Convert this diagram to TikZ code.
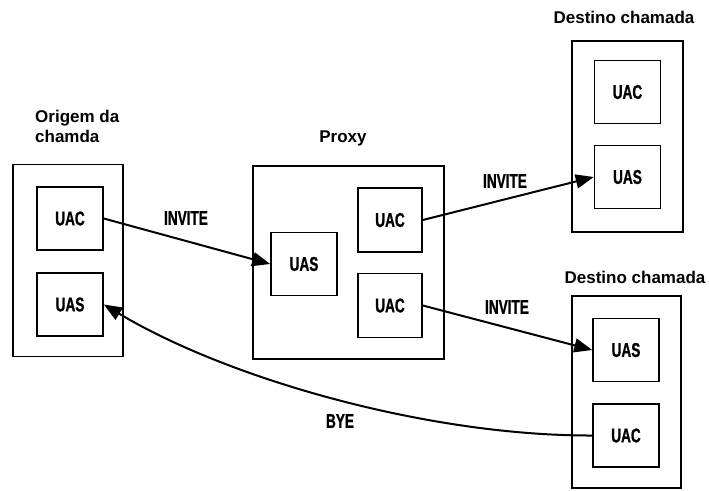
\documentclass[tikz,border=0pt]{standalone}
\usepackage{fontspec}
\setmainfont{Liberation Sans}
\newfontfamily\narrowfont[FakeStretch=0.68, FakeBold=1]{Liberation Sans}
\usetikzlibrary{arrows.meta}
\tikzset{
host/.style={draw, line width=1.6pt, minimum width=110pt, minimum height=192pt},
agent/.style={draw, line width=1.6pt, minimum width=66pt, minimum height=63pt,
    font=\narrowfont\bfseries\fontsize{20}{22}\selectfont},
title/.style={font=\bfseries\fontsize{17}{20}\selectfont},
msg/.style={line width=2pt, -{Triangle[length=18pt,width=14pt]}},
msglabel/.style={font=\narrowfont\bfseries\fontsize{20}{22}\selectfont}
}

\begin{document}
\begin{tikzpicture}[x=1pt, y=-1pt]
	\useasboundingbox[fill=white] (0,0) rectangle (709,490);
	\node[host] (orig) at (68,260.5) {};
	\node[agent] (origUAC) at (70,218.5) {UAC};
	\node[agent] (origUAS) at (70,304.5) {UAS};
	\node[title, align=left, inner sep=0pt, anchor=north west] (origLabel) at (35,110) {Origem da\\chamda};

	\node[host, minimum width=191pt, minimum height=193pt] (proxy) at (348.5,262.5) {};
	\node[agent] (proxyUAS) at (304,264) {UAS};
	\node[agent, minimum width=64pt, minimum height=64pt] (proxyUACa) at (390,220) {UAC};
	\node[agent, minimum width=64pt, minimum height=64pt] (proxyUACb) at (390,305.5) {UAC};
	\node[title] (proxyLabel) at (343,138) {Proxy};

	\node[host, minimum width=111pt, minimum height=191pt] (destA) at (627.5,136.5) {};
	\node[agent] (destAUAC) at (627.5,92) {UAC};
	\node[agent] (destAUAS) at (627.5,177) {UAS};
	\node[title] (destALabel) at (624,17) {Destino chamada};

	\node[host, minimum width=109pt] (destB) at (626.5,392) {};
	\node[agent] (destBUAS) at (626,350) {UAS};
	\node[agent] (destBUAC) at (626,435.5) {UAC};
	\node[title] (destBLabel) at (635,277) {Destino chamada};

	\draw[msg] (origUAC.east) -- (proxyUAS.west);
	\draw[msg] (proxyUACa.east) -- (destAUAS.west);
	\draw[msg] (proxyUACb.east) -- (destBUAS.west);
	\draw[msg] (destBUAC.west) .. controls (430,436) and (230,380) .. (origUAS.east);

	\node[msglabel] (inviteA) at (186,218) {INVITE};
	\node[msglabel] (inviteB) at (505,181) {INVITE};
	\node[msglabel] (inviteC) at (507,307) {INVITE};
	\node[msglabel] (bye) at (340,421) {BYE};
\end{tikzpicture}
\end{document}
